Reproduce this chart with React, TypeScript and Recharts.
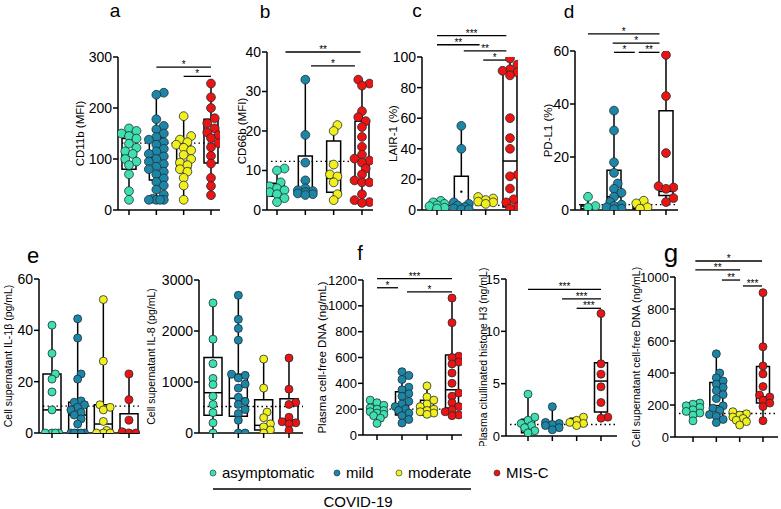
import React from 'react';
import { ComposedChart, Scatter, XAxis, YAxis, ReferenceLine, ReferenceArea, ReferenceDot } from 'recharts';

const FONT = "'Liberation Sans', Arial, sans-serif";
const GROUPS = ['asymptomatic', 'mild', 'moderate', 'MIS-C'];
const COLORS = ['#3fe0b0', '#1d86a6', '#f3ee1d', '#ee1313'];

type Box = [number, number, number];
type Sig = [number, number, number, string];

// ---- Panel a: CD11b (MFI)
const aTicks = [0, 100, 200, 300];
const aAsym = [160, 155, 150, 145, 140, 130, 122, 115, 110, 100, 95, 88, 70, 37, 20];
const aMild = [230, 226, 178, 165, 158, 150, 143, 138, 133, 128, 120, 115, 110, 105, 100, 95, 90, 85, 80, 75, 70, 62, 55, 48, 40, 30, 22, 20, 20, 20, 20];
const aMod = [184, 145, 138, 133, 128, 122, 117, 108, 100, 93, 88, 80, 75, 63, 48, 20];
const aMis = [248, 221, 200, 180, 170, 160, 152, 147, 141, 131, 123, 106, 91, 63, 47, 29];
const aBoxes: Box[] = [[80, 110, 140], [59, 102, 141], [82, 95, 131], [92, 147, 178]];
const aDotted = 131;
const aSig: Sig[] = [[1, 3, 280, '*'], [2, 3, 262, '*']];

// ---- Panel b: CD66b (MFI)
const bTicks = [0, 10, 20, 30, 40];
const bAsym = [10.5, 10, 7, 6, 5.5, 5, 4.5, 4, 3, 2];
const bMild = [33, 19, 12, 7.5, 5.5, 5, 4.8, 4.5, 4.2, 4, 3.8];
const bMod = [21.5, 20, 11.5, 9, 8.5, 7, 4, 2.5];
const bMis = [33, 32, 31.5, 25, 23.5, 22.5, 21, 18.5, 16, 14, 13, 12.5, 12, 10.5, 9, 7.5, 7, 7, 4, 2.5, 2, 1.8];
const bBoxes: Box[] = [[3.5, 5, 6.8], [4.5, 5, 13.7], [4.5, 8, 17.5], [7.5, 12.5, 22.5]];
const bDotted = 12.3;
const bSig: Sig[] = [[0.3, 2.95, 40, '**'], [1.2, 2.75, 36.5, '*']];

// ---- Panel c: LAIR-1 (%)
const cTicks = [0, 20, 40, 60, 80, 100];
const cAsym = [6, 5, 4, 3, 2.5, 1.5, 1];
const cMild = [55, 40, 5, 4, 3, 2, 1, 0.5, 0.5];
const cMod = [8.5, 7.5, 6.5, 5.5, 5, 4];
const cMis = [99, 95, 92, 91, 90, 88, 60, 47, 40, 23, 22, 14, 7, 5, 2, 1];
const cBoxes: Box[] = [[1.5, 2.5, 4], [1, 2, 22], [4.5, 5.5, 7], [2, 32, 90]];
const cDotted = 3;
const cMean: [number, number] = [1, 12];
const cSig: Sig[] = [[0, 2.85, 114, '***'], [0, 1.75, 108, '**'], [1.1, 2.85, 104, '**'], [1.9, 2.85, 98, '*']];

// ---- Panel d: PD-L1 (%)
const dTicks = [0, 20, 40, 60];
const dAsym = [5, 1.5, 1];
const dMild = [37.5, 30, 18, 14, 10, 8, 6.5, 5, 3, 2, 1.5, 1, 0.5, 0.3];
const dMod = [3.5, 2.5, 1, 0.5];
const dMis = [58.5, 43, 21.5, 9, 8.5, 8, 4.5, 3];
const dBoxes: Box[] = [[0.5, 1.5, 2], [0.5, 5, 15], [0.5, 1.5, 3], [5.5, 7, 37.5]];
const dDotted = 2;
const dSig: Sig[] = [[0, 2.75, 66.5, '*'], [0.95, 2.75, 63, '*'], [1, 1.8, 59.5, '*'], [1.95, 2.75, 59.5, '**']];

// ---- Panel e (left): IL-1β
const e1Ticks = [0, 20, 40, 60];
const e1Asym = [42, 31, 23, 21, 16, 9, 0, 0, 0, 0];
const e1Mild = [44.5, 37, 23, 21, 12.5, 12, 11, 10, 9, 8, 7, 5.5, 3.5, 0, 0, 0, 0, 0];
const e1Mod = [52, 28, 11, 10, 9, 4.5, 1, 0, 0, 0];
const e1Mis = [23, 13, 5, 0.5, 0, 0];
const e1Boxes: Box[] = [[0, 9, 23], [0, 7, 12], [0, 3.5, 11], [0, 0, 7.5]];
const e1Dotted = 10.5;

// ---- Panel e (right): IL-8
const e2Ticks = [0, 1000, 2000, 3000];
const e2Asym = [2550, 1840, 1360, 1070, 950, 720, 560, 400, 200, 0];
const e2Mild = [2700, 2230, 2050, 1820, 1150, 1130, 1080, 960, 880, 700, 620, 560, 460, 380, 250, 0, 0];
const e2Mod = [1450, 880, 410, 300, 180, 120, 60, 0];
const e2Mis = [1470, 860, 600, 560, 310, 220, 200, 180, 50];
const e2Boxes: Box[] = [[350, 790, 1480], [330, 680, 1150], [60, 150, 650], [200, 250, 670]];
const e2Dotted = 520;

// ---- Panel f (left): plasma cell-free DNA
const f1Ticks = [0, 200, 400, 600, 800, 1000, 1200];
const f1Asym = [270, 250, 230, 210, 200, 190, 180, 170, 160, 150, 130, 90];
const f1Mild = [490, 460, 430, 370, 350, 320, 300, 260, 240, 220, 200, 190, 170, 150, 120, 93];
const f1Mod = [380, 295, 270, 240, 220, 200, 190, 180, 170, 160];
const f1Mis = [1060, 870, 610, 600, 565, 550, 480, 400, 325, 300, 250, 220, 195, 180, 155, 150];
const f1Boxes: Box[] = [[150, 175, 200], [155, 210, 335], [155, 210, 270], [210, 350, 620]];
const f1Dotted = 200;
const f1Sig: Sig[] = [[0, 0.84, 1140, '*'], [0, 3, 1210, '***'], [1.2, 3, 1108, '*']];

// ---- Panel f (right): citrullinated histone H3
const f2Ticks = [0, 5, 10, 15];
const f2Asym = [4, 1.8, 1.5, 1.2, 1, 0.8, 0.5, 0.3];
const f2Mild = [2.8, 1.3, 1.2, 1.1, 1, 0.8, 0.6];
const f2Mod = [1.8, 1.5, 1.3, 1.2, 1.0];
const f2Mis = [11.7, 6.9, 5.9, 4.7, 3.2, 1.8, 1.7];
const f2Boxes: Box[] = [[0.3, 0.8, 1.6], [0.8, 1, 1.3], [1.1, 1.3, 1.7], [2.3, 5.25, 7]];
const f2Dotted = 1.1;
const f2Sig: Sig[] = [[0, 3, 14, '***'], [1.4, 3, 13.1, '***'], [2, 3, 12.2, '***']];

// ---- Panel g: supernatant cell-free DNA
const gTicks = [0, 200, 400, 600, 800, 1000];
const gAsym = [212, 205, 195, 185, 170, 160, 150, 137, 101];
const gMild = [520, 400, 370, 350, 330, 310, 290, 265, 240, 195, 180, 165, 140, 130, 110, 90];
const gMod = [158, 145, 137, 125, 116, 105, 96, 75];
const gMis = [902, 564, 444, 394, 315, 262, 250, 230, 212, 190, 102];
const gBoxes: Box[] = [[158, 175, 212], [127, 196, 340], [106, 120, 158], [212, 252, 440]];
const gDotted = 147;
const gSig: Sig[] = [[0.1, 2.96, 1100, '*'], [0.1, 2.02, 1044, '**'], [1.24, 2.02, 981, '**'], [2.14, 2.96, 944, '***']];

interface PanelProps {
  T: number; axisX: number; xEnd: number; yTopPx: number; y0Px: number;
  ticks: number[]; cat0Px: number; spacing: number;
  groups: number[][]; boxes: Box[]; dotted: number; sig: Sig[];
  ylabel: string; labelX: number; labelSize: number; tickFont: number; r: number;
  boxHalfPx: number; mean?: [number, number];
}

// compact beeswarm layout (pixel space) returning x offsets in category units
function swarm(vals: number[], pxPerUnit: number, spacing: number, r: number): number[] {
  const order = vals.map((v, i) => i).sort((a, b) => vals[a] - vals[b]);
  const placed: { x: number; y: number }[] = [];
  const out = new Array(vals.length).fill(0);
  const steps = [0, 1, -1, 2, -2, 3, -3, 4, -4];
  const maxOff = spacing * 0.36;
  const minD = 2 * r * 0.72;
  for (const idx of order) {
    const py = vals[idx] * pxPerUnit;
    let chosen = 0;
    let best = Infinity;
    for (const k of steps) {
      const ox = k * r * 0.85;
      if (Math.abs(ox) > maxOff) continue;
      let overlap = 0;
      for (const p of placed) {
        const d = Math.hypot(p.x - ox, p.y - py);
        if (d < minD) overlap += minD - d;
      }
      if (overlap === 0) { chosen = ox; best = 0; break; }
      if (overlap < best) { best = overlap; chosen = ox; }
    }
    placed.push({ x: chosen, y: py });
    out[idx] = chosen / spacing;
  }
  return out;
}

const LW = 1.5;

function Panel(p: PanelProps) {
  const L = p.labelX - 6;
  const yMax = p.ticks[p.ticks.length - 1];
  const xMin = (p.axisX - p.cat0Px) / p.spacing;
  const xMax = (p.xEnd - p.cat0Px) / p.spacing;
  const W = p.xEnd - L + 6;
  const xh = 10;
  const H = p.y0Px - p.T + xh;
  const pxPerUnit = (p.y0Px - p.yTopPx) / yMax;
  const bw = p.boxHalfPx / p.spacing;

  const elems: React.ReactNode[] = [];
  elems.push(
    <ReferenceLine key="dot" segment={[{ x: xMin + 4 / p.spacing, y: p.dotted }, { x: xMax, y: p.dotted }]}
      stroke="#000" strokeWidth={1.3} strokeDasharray="1.5 3" ifOverflow="visible" />
  );
  p.boxes.forEach((b, i) => {
    const vals = p.groups[i];
    const mn = Math.min(...vals);
    const mx = Math.max(...vals);
    if (b[0] > mn) elems.push(<ReferenceLine key={`wl${i}`} segment={[{ x: i, y: mn }, { x: i, y: b[0] }]} stroke="#000" strokeWidth={LW} ifOverflow="visible" />);
    if (mx > b[2]) elems.push(<ReferenceLine key={`wh${i}`} segment={[{ x: i, y: b[2] }, { x: i, y: mx }]} stroke="#000" strokeWidth={LW} ifOverflow="visible" />);
    elems.push(<ReferenceArea key={`bx${i}`} x1={i - bw} x2={i + bw} y1={b[0]} y2={b[2]} fill="none" fillOpacity={0} stroke="#000" strokeWidth={LW} ifOverflow="visible" />);
    elems.push(<ReferenceLine key={`md${i}`} segment={[{ x: i - bw, y: b[1] }, { x: i + bw, y: b[1] }]} stroke="#000" strokeWidth={LW} ifOverflow="visible" />);
  });
  p.sig.forEach((s, i) => {
    elems.push(
      <ReferenceLine key={`sg${i}`} segment={[{ x: s[0], y: s[2] }, { x: s[1], y: s[2] }]} stroke="#000" strokeWidth={1.3} ifOverflow="visible"
        label={{ value: s[3], position: 'top', offset: -1, fontSize: 10, fill: '#000', fontFamily: FONT }} />
    );
  });
  if (p.mean) elems.push(<ReferenceDot key="mean" x={p.mean[0]} y={p.mean[1]} r={1.2} fill="#000" stroke="none" ifOverflow="visible" />);

  return (
    <div style={{ position: 'absolute', left: L, top: p.T }}>
      <ComposedChart width={W} height={H} margin={{ top: p.yTopPx - p.T, right: 6, bottom: 0, left: 0 }}>
        <XAxis type="number" dataKey="x" domain={[xMin, xMax]} allowDataOverflow ticks={[0, 1, 2, 3]}
          tickFormatter={() => ''} height={xh} tickSize={5} axisLine={{ stroke: '#000', strokeWidth: LW }}
          tickLine={{ stroke: '#000', strokeWidth: LW }} />
        <YAxis type="number" dataKey="y" domain={[0, yMax]} allowDataOverflow ticks={p.ticks} width={p.axisX - L}
          tickSize={5} tickMargin={1} axisLine={{ stroke: '#000', strokeWidth: LW }} tickLine={{ stroke: '#000', strokeWidth: LW }}
          tick={{ fontSize: p.tickFont, fill: '#000', fontFamily: FONT }}
          label={{ value: p.ylabel, angle: -90, position: 'insideLeft', offset: 6, fill: '#000', fontSize: p.labelSize, fontFamily: FONT, style: { textAnchor: 'middle' } }} />
        {elems}
        {p.groups.map((g, i) => {
          const off = swarm(g, pxPerUnit, p.spacing, p.r);
          const data = g.map((v, j) => ({ x: i + off[j], y: v }));
          return (
            <Scatter key={`sc${i}`} name={GROUPS[i]} data={data} isAnimationActive={false}
              shape={(sp: any) => <circle cx={sp.cx} cy={sp.cy} r={p.r} fill={COLORS[i]} stroke="#1c2e33" strokeWidth={0.8} />} />
          );
        })}
      </ComposedChart>
    </div>
  );
}

const LETTERS: [string, number, number, number][] = [
  ['a', 115, 17, 19], ['b', 265, 18, 19], ['c', 417, 17, 19], ['d', 569, 18, 19],
  ['e', 33, 263, 22], ['f', 360, 260, 20], ['g', 671, 262, 26],
];

export default function App() {
  return (
    <div style={{ position: 'absolute', left: 0, top: 0, width: 781, height: 509, background: '#fff', overflow: 'hidden', fontFamily: FONT }}>
      <Panel T={20} axisX={118} xEnd={220} yTopPx={57} y0Px={210} ticks={aTicks} cat0Px={129} spacing={27.33}
        groups={[aAsym, aMild, aMod, aMis]} boxes={aBoxes} dotted={aDotted} sig={aSig}
        ylabel="CD11b (MFI)" labelX={80} labelSize={11.5} tickFont={14} r={4.4} boxHalfPx={7} />
      <Panel T={20} axisX={267} xEnd={373} yTopPx={52} y0Px={210} ticks={bTicks} cat0Px={277} spacing={28.33}
        groups={[bAsym, bMild, bMod, bMis]} boxes={bBoxes} dotted={bDotted} sig={bSig}
        ylabel="CD66b (MFI)" labelX={242} labelSize={11.5} tickFont={14} r={4.4} boxHalfPx={7} />
      <Panel T={20} axisX={422} xEnd={518} yTopPx={57} y0Px={210} ticks={cTicks} cat0Px={437} spacing={24.33}
        groups={[cAsym, cMild, cMod, cMis]} boxes={cBoxes} dotted={cDotted} sig={cSig} mean={cMean}
        ylabel="LAIR-1 (%)" labelX={393} labelSize={11.5} tickFont={14} r={4.4} boxHalfPx={7} />
      <Panel T={20} axisX={575} xEnd={678} yTopPx={51} y0Px={210} ticks={dTicks} cat0Px={588} spacing={26}
        groups={[dAsym, dMild, dMod, dMis]} boxes={dBoxes} dotted={dDotted} sig={dSig}
        ylabel="PD-L1 (%)" labelX={548} labelSize={11.5} tickFont={14} r={4.4} boxHalfPx={7} />

      <Panel T={250} axisX={39} xEnd={140} yTopPx={279} y0Px={433} ticks={e1Ticks} cat0Px={52} spacing={25.67}
        groups={[e1Asym, e1Mild, e1Mod, e1Mis]} boxes={e1Boxes} dotted={e1Dotted} sig={[]}
        ylabel="Cell supernatant IL-1β (pg/mL)" labelX={8} labelSize={10.5} tickFont={14} r={4} boxHalfPx={9} />
      <Panel T={250} axisX={199} xEnd={303} yTopPx={280} y0Px={433} ticks={e2Ticks} cat0Px={213} spacing={25.33}
        groups={[e2Asym, e2Mild, e2Mod, e2Mis]} boxes={e2Boxes} dotted={e2Dotted} sig={[]}
        ylabel="Cell supernatant IL-8 (pg/mL)" labelX={151} labelSize={10.5} tickFont={14} r={4} boxHalfPx={9} />
      <Panel T={250} axisX={363} xEnd={462} yTopPx={280} y0Px={435} ticks={f1Ticks} cat0Px={377} spacing={25}
        groups={[f1Asym, f1Mild, f1Mod, f1Mis]} boxes={f1Boxes} dotted={f1Dotted} sig={f1Sig}
        ylabel="Plasma cell-free DNA (ng/mL)" labelX={322} labelSize={11.5} tickFont={13} r={4} boxHalfPx={6.5} />
      <Panel T={250} axisX={506} xEnd={617} yTopPx={279} y0Px={436} ticks={f2Ticks} cat0Px={528} spacing={24.33}
        groups={[f2Asym, f2Mild, f2Mod, f2Mis]} boxes={f2Boxes} dotted={f2Dotted} sig={f2Sig}
        ylabel="Plasma citullinated histone H3 (ng/mL)" labelX={483} labelSize={10.5} tickFont={13} r={4} boxHalfPx={6.5} />
      <Panel T={250} axisX={675} xEnd={778} yTopPx={277} y0Px={437} ticks={gTicks} cat0Px={693} spacing={23.33}
        groups={[gAsym, gMild, gMod, gMis]} boxes={gBoxes} dotted={gDotted} sig={gSig}
        ylabel="Cell supernatant cell-free DNA (ng/mL)" labelX={636} labelSize={10.5} tickFont={13} r={4} boxHalfPx={6.5} />

      <svg width={781} height={509} style={{ position: 'absolute', left: 0, top: 0, pointerEvents: 'none' }}>
        {LETTERS.map(([t, x, y, s]) => (
          <text key={t} x={x} y={y} fontSize={s} textAnchor="middle" fontFamily={FONT} fill="#000">{t}</text>
        ))}
        {GROUPS.map((g, i) => {
          const xs = [213, 337, 399, 497];
          return (
            <g key={g}>
              <circle cx={xs[i]} cy={473} r={3} fill={COLORS[i]} stroke="#1c2e33" strokeWidth={0.6} />
              <text x={xs[i] + 9} y={478} fontSize={15} fontFamily={FONT} fill="#000">{g}</text>
            </g>
          );
        })}
        <line x1={213} x2={471} y1={489} y2={489} stroke="#000" strokeWidth={1.5} />
        <text x={358} y={507} fontSize={15} textAnchor="middle" fontFamily={FONT} fill="#000">COVID-19</text>
      </svg>
    </div>
  );
}
